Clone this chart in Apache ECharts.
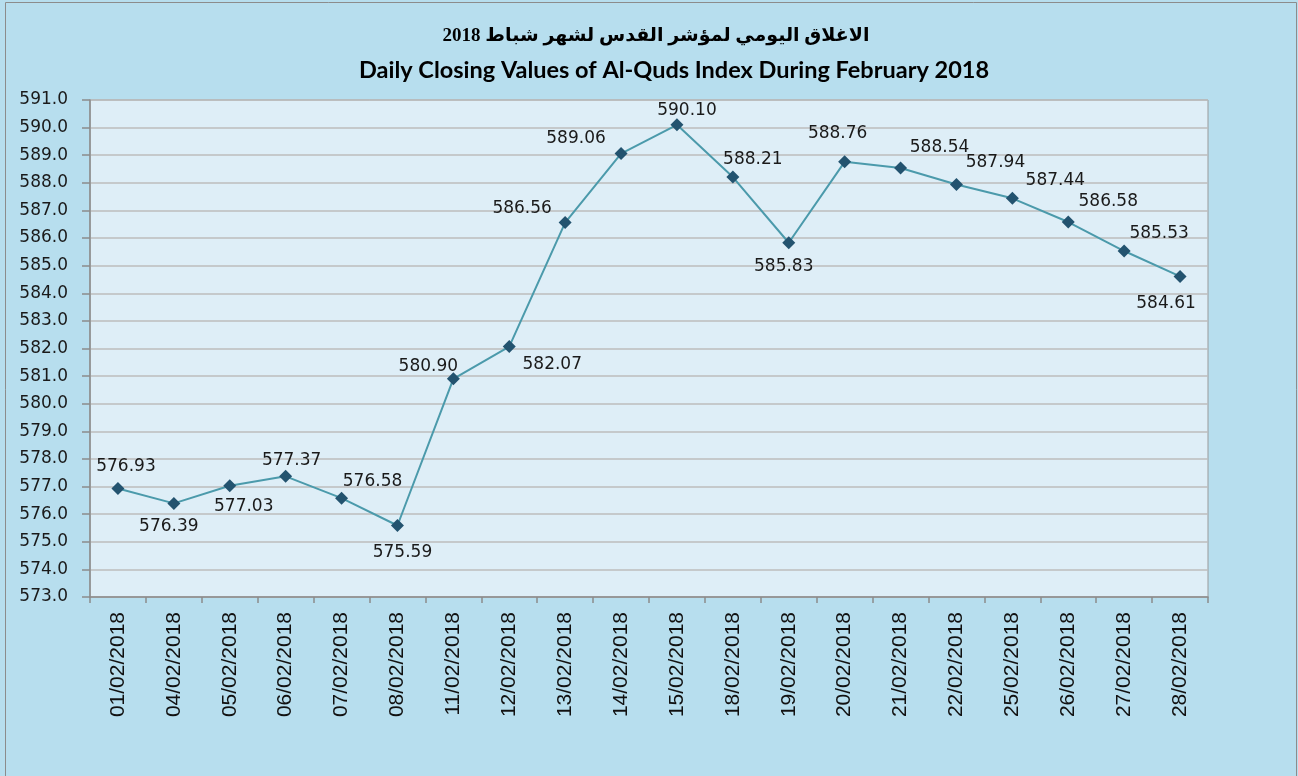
<!DOCTYPE html>
<html>
<head>
<meta charset="utf-8">
<script src="https://cdn.jsdelivr.net/npm/echarts@6/dist/echarts.min.js"></script>
<style>
  html, body { margin: 0; padding: 0; }
  #chart { width: 1298px; height: 776px; }
</style>
</head>
<body>
<div id="chart"></div>
<script>
// dates of trading days (Feb 2018)
const dates = [
  '01/02/2018', '04/02/2018', '05/02/2018', '06/02/2018', '07/02/2018',
  '08/02/2018', '11/02/2018', '12/02/2018', '13/02/2018', '14/02/2018',
  '15/02/2018', '18/02/2018', '19/02/2018', '20/02/2018', '21/02/2018',
  '22/02/2018', '25/02/2018', '26/02/2018', '27/02/2018', '28/02/2018'
];
// closing values of the index
const closing = [
  576.93, 576.39, 577.03, 577.37, 576.58,
  575.59, 580.90, 582.07, 586.56, 589.06,
  590.10, 588.21, 585.83, 588.76, 588.54,
  587.94, 587.44, 586.58, 585.53, 584.61
];
const yMin = 573;
const yMax = 591;
const yStep = 1;

// where each value label sits relative to its marker (px)
const labelShift = [
  [8, -22], [-5, 23], [14, 21], [6, -16], [31, -17],
  [5, 27], [-25, -12], [43, 18], [-43, -14], [-45, -15],
  [10, -14], [20, -17], [-5, 24], [-7, -28], [39, -20],
  [39, -22], [43, -18], [40, -20], [35, -17], [-14, 27]
];

const chart = echarts.init(document.getElementById('chart'));

const option = {
  animation: false,
  backgroundColor: '#b7deee',
  title: [
    {
      text: 'الاغلاق اليومي لمؤشر القدس لشهر شباط 2018',
      left: 651,
      top: 22,
      textAlign: 'center',
      textStyle: { fontFamily: 'Liberation Serif, DejaVu Sans', fontWeight: 'bold', fontSize: 19, color: '#000' }
    },
    {
      text: 'Daily Closing Values of Al-Quds Index During February 2018',
      left: 669,
      top: 53,
      textAlign: 'center',
      textStyle: { fontFamily: 'Lato', fontWeight: 'bold', fontSize: 23.5, color: '#000' }
    }
  ],
  graphic: [{
    type: 'rect',
    shape: { x: 5.5, y: 2.5, width: 1291, height: 790 },
    style: { fill: 'none', stroke: '#8c8c8c', lineWidth: 1 },
    silent: true
  }],
  grid: {
    left: 90, right: 90, top: 100, bottom: 179,
    show: true,
    backgroundColor: '#deeef7',
    borderColor: '#9a9a9a',
    borderWidth: 1
  },
  xAxis: {
    type: 'category',
    data: dates,
    boundaryGap: true,
    axisLine: { lineStyle: { color: '#8c8c8c', width: 1.5 } },
    axisTick: { show: true, length: 6, lineStyle: { color: '#8c8c8c', width: 1.5 } },
    axisLabel: {
      rotate: 90,
      margin: 15,
      interval: 0,
      fontFamily: 'Liberation Sans',
      fontSize: 21,
      color: '#111'
    }
  },
  yAxis: {
    type: 'value',
    min: yMin,
    max: yMax,
    interval: yStep,
    axisLine: { show: true, lineStyle: { color: '#8c8c8c', width: 1.5 } },
    axisTick: { show: true, length: 8, lineStyle: { color: '#8c8c8c', width: 1.5 } },
    axisLabel: {
      margin: 22,
      fontFamily: 'DejaVu Sans',
      fontSize: 17,
      color: '#1a1a1a',
      formatter: v => v.toFixed(1)
    },
    splitLine: { show: true, lineStyle: { color: '#bdbdbd', width: 1.5 } }
  },
  series: [{
    type: 'line',
    data: closing.map((v, i) => ({
      value: v,
      label: { offset: labelShift[i] }
    })),
    symbol: 'diamond',
    symbolSize: 13,
    itemStyle: { color: '#23536f' },
    lineStyle: { color: '#4b9aab', width: 2 },
    label: {
      show: true,
      position: 'inside',
      fontFamily: 'DejaVu Sans',
      fontSize: 17,
      color: '#1a1a1a',
      formatter: p => p.value.toFixed(2)
    },
    z: 3
  }]
};

chart.setOption(option);
</script>
</body>
</html>
